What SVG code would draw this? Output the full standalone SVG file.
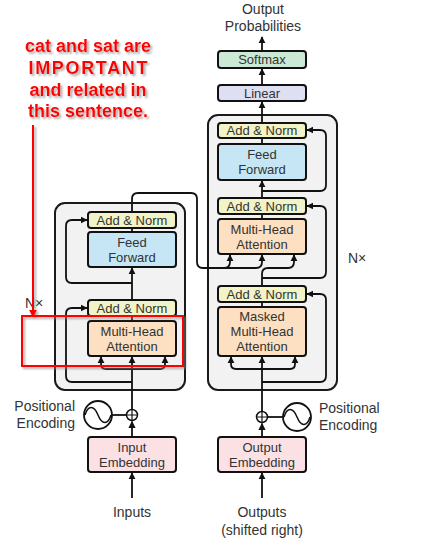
<svg xmlns="http://www.w3.org/2000/svg" width="428" height="550" viewBox="0 0 428 550">
<style>
.bg{fill:#f2f2f2;stroke:#1a1a1a;stroke-width:2}
.n{stroke:#111;stroke-width:2}
.an{fill:#f2f4c8}
.ff{fill:#c6e6f5}
.mha{fill:#fddfc2}
.emb{fill:#fbe1e3}
.lin{fill:#dedff2}
.sm{fill:#cce9d5}
text{font-family:"Liberation Sans",Arial,sans-serif;fill:#333;}
.t{font-size:13px;text-anchor:middle}
.l{font-size:14px}
.c{fill:none;stroke:#111;stroke-width:1.8}
.red{font-family:"Liberation Sans",Arial,sans-serif;font-weight:bold;font-size:18px;fill:#ff0000;text-anchor:middle}
</style>
<defs>
<marker id="ah" viewBox="0 0 10 10" refX="9" refY="5" markerWidth="4" markerHeight="4" orient="auto" markerUnits="strokeWidth">
<path d="M0,0 L10,5 L0,10 z" fill="#111"/>
</marker>
<marker id="rh" viewBox="0 0 10 10" refX="9" refY="5" markerWidth="4" markerHeight="4" orient="auto" markerUnits="strokeWidth">
<path d="M0,0 L10,5 L0,10 z" fill="#ff0000"/>
</marker>
<filter id="sh" x="-10%" y="-10%" width="130%" height="130%">
<feDropShadow dx="2" dy="2" stdDeviation="1" flood-color="#888" flood-opacity="0.7"/>
</filter>
</defs>

<g id="encoder-stack"><rect class="bg" x="55" y="203" width="130" height="187" rx="10"/></g>
<g id="decoder-stack"><rect class="bg" x="208" y="115" width="129" height="275" rx="10"/></g>

<g id="connectors">
<!-- encoder -->
<path class="c" d="M132,498 V473" marker-end="url(#ah)"/>
<path class="c" d="M132,437 V421.5" marker-end="url(#ah)"/>
<path class="c" d="M132,409.5 V357" marker-end="url(#ah)"/>
<path class="c" d="M132,369 H106 Q101,369 101,364 V357" marker-end="url(#ah)"/>
<path class="c" d="M132,369 H160 Q165,369 165,364 V357" marker-end="url(#ah)"/>
<path class="c" d="M132,382 H72 Q66,382 66,376 V314 Q66,308 72,308 H87" marker-end="url(#ah)"/>
<path class="c" d="M132,316 V321"/>
<path class="c" d="M132,300 V268" marker-end="url(#ah)"/>
<path class="c" d="M132,283 H72 Q66,283 66,277 V226 Q66,220 72,220 H87" marker-end="url(#ah)"/>
<path class="c" d="M132,232 V228"/>
<path class="c" d="M132,212 V199 Q132,193 138,193 H191 Q197,193 197,199 V262 Q197,268 203,268 H256 Q262,268 262,262 V255" marker-end="url(#ah)"/>
<path class="c" d="M224,268 Q230,268 230,262 V255" marker-end="url(#ah)"/>
<path class="c" d="M112,415 H126.5"/>
<!-- decoder -->
<path class="c" d="M262,498 V473" marker-end="url(#ah)"/>
<path class="c" d="M262,437 V423.5" marker-end="url(#ah)"/>
<path class="c" d="M262,411.5 V357" marker-end="url(#ah)"/>
<path class="c" d="M262,369 H236 Q231,369 231,364 V357" marker-end="url(#ah)"/>
<path class="c" d="M262,369 H290 Q295,369 295,364 V357" marker-end="url(#ah)"/>
<path class="c" d="M262,382 H320 Q326,382 326,376 V300 Q326,294 320,294 H307" marker-end="url(#ah)"/>
<path class="c" d="M262,307 V302"/>
<path class="c" d="M262,286 V274 Q262,268 268,268 H288 Q294,268 294,262 V255" marker-end="url(#ah)"/>
<path class="c" d="M262,278 H320 Q326,278 326,272 V212 Q326,206 320,206 H307" marker-end="url(#ah)"/>
<path class="c" d="M262,219 V214"/>
<path class="c" d="M262,198 V181" marker-end="url(#ah)"/>
<path class="c" d="M262,191 H320 Q326,191 326,185 V136 Q326,130 320,130 H307" marker-end="url(#ah)"/>
<path class="c" d="M262,144 V138"/>
<path class="c" d="M262,123 V102" marker-end="url(#ah)"/>
<path class="c" d="M262,85 V69" marker-end="url(#ah)"/>
<path class="c" d="M262,51 V37" marker-end="url(#ah)"/>
<path class="c" d="M267.5,417 H283"/>
</g>

<g id="enc-addnorm-2"><rect class="n an" x="88" y="212" width="88" height="16" rx="3"/><text class="t" x="132" y="224.5">Add &amp; Norm</text></g>
<g id="enc-feedforward"><rect class="n ff" x="88" y="232" width="88" height="35" rx="3"/><text class="t" x="132" y="247">Feed</text><text class="t" x="132" y="262">Forward</text></g>
<g id="enc-addnorm-1"><rect class="n an" x="88" y="300" width="88" height="16" rx="3"/><text class="t" x="132" y="312.5">Add &amp; Norm</text></g>
<g id="enc-mha"><rect class="n mha" x="88" y="321" width="88" height="35" rx="3"/><text class="t" x="132" y="336">Multi-Head</text><text class="t" x="132" y="351">Attention</text></g>
<g id="enc-plus"><circle cx="132" cy="415" r="5.5" fill="#fff" stroke="#111" stroke-width="1.5"/><path d="M126.5,415 H137.5 M132,409.5 V420.5" stroke="#111" stroke-width="1.2"/></g>
<g id="enc-posenc"><circle cx="98" cy="415" r="14" fill="#fff" stroke="#111" stroke-width="1.8"/><path d="M85,415 C88,405 94,405 98,415 S108,425 111,415" fill="none" stroke="#111" stroke-width="1.5"/></g>
<g id="enc-embedding"><rect class="n emb" x="88" y="437" width="88" height="35" rx="3"/><text class="t" x="132" y="452">Input</text><text class="t" x="132" y="467">Embedding</text></g>

<g id="dec-softmax"><rect class="n sm" x="218" y="51" width="88" height="17" rx="3"/><text class="t" x="262" y="64">Softmax</text></g>
<g id="dec-linear"><rect class="n lin" x="218" y="85" width="88" height="16" rx="3"/><text class="t" x="262" y="97.5">Linear</text></g>
<g id="dec-addnorm-3"><rect class="n an" x="218" y="123" width="88" height="15" rx="3"/><text class="t" x="262" y="135">Add &amp; Norm</text></g>
<g id="dec-feedforward"><rect class="n ff" x="218" y="144" width="88" height="36" rx="3"/><text class="t" x="262" y="159">Feed</text><text class="t" x="262" y="174">Forward</text></g>
<g id="dec-addnorm-2"><rect class="n an" x="218" y="198" width="88" height="16" rx="3"/><text class="t" x="262" y="210.5">Add &amp; Norm</text></g>
<g id="dec-mha"><rect class="n mha" x="218" y="219" width="88" height="35" rx="3"/><text class="t" x="262" y="234">Multi-Head</text><text class="t" x="262" y="249">Attention</text></g>
<g id="dec-addnorm-1"><rect class="n an" x="218" y="286" width="88" height="16" rx="3"/><text class="t" x="262" y="298.5">Add &amp; Norm</text></g>
<g id="dec-masked-mha"><rect class="n mha" x="218" y="307" width="88" height="49" rx="3"/><text class="t" x="262" y="321">Masked</text><text class="t" x="262" y="336">Multi-Head</text><text class="t" x="262" y="351">Attention</text></g>
<g id="dec-plus"><circle cx="262" cy="417" r="5.5" fill="#fff" stroke="#111" stroke-width="1.5"/><path d="M256.5,417 H267.5 M262,411.5 V422.5" stroke="#111" stroke-width="1.2"/></g>
<g id="dec-posenc"><circle cx="297" cy="417" r="14" fill="#fff" stroke="#111" stroke-width="1.8"/><path d="M284,417 C287,407 293,407 297,417 S307,427 310,417" fill="none" stroke="#111" stroke-width="1.5"/></g>
<g id="dec-embedding"><rect class="n emb" x="218" y="437" width="88" height="35" rx="3"/><text class="t" x="262" y="452">Output</text><text class="t" x="262" y="467">Embedding</text></g>

<g id="labels">
<text class="l" x="263" y="14" text-anchor="middle">Output</text>
<text class="l" x="263" y="31" text-anchor="middle">Probabilities</text>
<text class="l" x="132" y="517" text-anchor="middle">Inputs</text>
<text class="l" x="262" y="517" text-anchor="middle">Outputs</text>
<text class="l" x="262" y="535" text-anchor="middle">(shifted right)</text>
<text class="l" x="75" y="411" text-anchor="end">Positional</text>
<text class="l" x="75" y="428" text-anchor="end">Encoding</text>
<text class="l" x="319" y="413">Positional</text>
<text class="l" x="319" y="430">Encoding</text>
<text class="l" x="25" y="308">N×</text>
<text class="l" x="348" y="263">N×</text>
</g>

<g id="annotation" filter="url(#sh)">
<text class="red" x="88" y="52">cat and sat are</text>
<text class="red" x="88" y="74" textLength="119" lengthAdjust="spacing">IMPORTANT</text>
<text class="red" x="88" y="96">and related in</text>
<text class="red" x="88" y="117">this sentence.</text>
<path d="M33,125 V317" stroke="#ff0000" stroke-width="2" fill="none" marker-end="url(#rh)"/>
<rect x="22" y="316" width="161" height="50" fill="none" stroke="#ff0000" stroke-width="2"/>
</g>
</svg>
